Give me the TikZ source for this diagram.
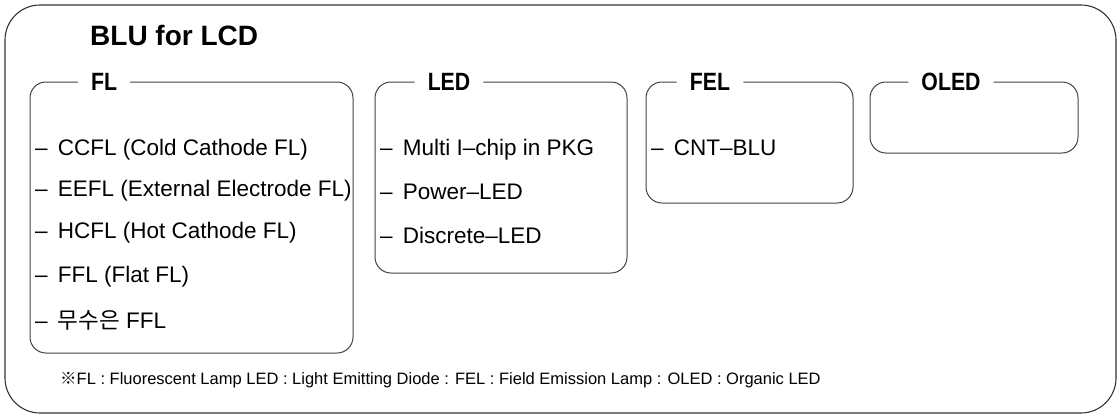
\documentclass[tikz,border=0pt]{standalone}
\usepackage{fontspec}
\setmainfont{Liberation Sans}
\newfontfamily\cjk{Noto Sans CJK KR}
\newfontfamily\grpfont{Liberation Sans}[FakeStretch=0.85]
\newcommand{\bul}{–\hspace{0.45em}}
\begin{document}
\begin{tikzpicture}[x=1pt,y=-1pt,
  frame/.style={draw=black!80, line width=1.1pt, rounded corners=35pt},
  grp/.style={draw=black!75, line width=1pt, rounded corners=16pt},
  grptitle/.style={inner xsep=13pt, inner ysep=0pt, font=\grpfont\bfseries\fontsize{25}{25}\selectfont},
  item/.style={anchor=west, inner sep=0pt, font=\fontsize{22.5}{22.5}\selectfont},
  note/.style={anchor=west, inner sep=0pt, font=\fontsize{16.5}{16.5}\selectfont},
  ]
\useasboundingbox (0,0) rectangle (1119,416);
% outer frame
\draw[frame] (5,5) rectangle (1116,413);
% title
\node[anchor=base west, inner sep=0pt, font=\bfseries\fontsize{28}{28}\selectfont] (title) at (90,45) {BLU for LCD};

% FL group
\node[grptitle] (fl) at (104,82) {FL};
\draw[grp] (fl.east) -- (353,82) -- (353,353) -- (30,353) -- (30,82) -- (fl.west);
\node[item] (fl1) at (35,150) {\bul CCFL (Cold Cathode FL)};
\node[item] (fl2) at (35,191) {\bul EEFL (External Electrode FL)};
\node[item] (fl3) at (35,233) {\bul HCFL (Hot Cathode FL)};
\node[item] (fl4) at (35,277) {\bul FFL (Flat FL)};
\node[item] (fl5) at (35,320) {\bul {\cjk 무수은} FFL};

% LED group
\node[grptitle] (led) at (449,82) {LED};
\draw[grp] (led.east) -- (627,82) -- (627,273) -- (375,273) -- (375,82) -- (led.west);
\node[item] (led1) at (380,150) {\bul Multi I–chip in PKG};
\node[item] (led2) at (380,192) {\bul Power–LED};
\node[item] (led3) at (380,235) {\bul Discrete–LED};

% FEL group
\node[grptitle] (fel) at (710,82) {FEL};
\draw[grp] (fel.east) -- (853,82) -- (853,203) -- (646,203) -- (646,82) -- (fel.west);
\node[item] (fel1) at (651,148) {\bul CNT–BLU};

% OLED group
\node[grptitle] (oled) at (951,82) {OLED};
\draw[grp] (oled.east) -- (1078,82) -- (1078,153) -- (870,153) -- (870,82) -- (oled.west);

% footnote
\node[note] (fn) at (60,380) {{\cjk ※}FL : Fluorescent Lamp LED : Light Emitting Diode : FEL : Field Emission Lamp : OLED : Organic LED};
\end{tikzpicture}
\end{document}
